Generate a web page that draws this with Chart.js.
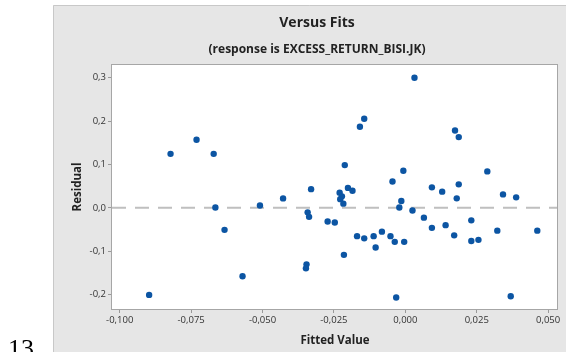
<!DOCTYPE html>
<html>
<head>
<meta charset="utf-8">
<script src="https://cdn.jsdelivr.net/npm/chart.js@4.4.0/dist/chart.umd.min.js"></script>
<style>
  body { margin: 0; background: #fff; }
  #wrap { width: 566px; height: 352px; }
</style>
</head>
<body>
<div id="wrap"><canvas id="myChart" width="566" height="352"></canvas></div>
<script>
// fitted values and residuals
var fitted = [
  -0.0822, -0.0731, -0.0671, -0.0330, -0.0428, -0.0665, -0.0509, -0.0633, -0.0342, -0.0337,
  -0.0272, -0.0346, -0.0348, -0.0570, -0.0897, 0.0032, -0.0144, -0.0159, 0.0174, 0.0187,
  -0.0212, -0.0007, 0.0287, -0.0045, 0.0093, 0.0187, 0.0129, 0.0342, 0.0388, 0.0180,
  -0.0230, -0.0201, -0.0185, -0.0222, -0.0228, -0.0217, -0.0014, -0.0021, 0.0025, 0.0065,
  -0.0247, 0.0231, 0.0141, 0.0093, 0.0322, 0.0462, 0.0171, -0.0169, -0.0144, -0.0111,
  -0.0082, -0.0052, -0.0037, -0.0004, 0.0231, 0.0256, -0.0104, -0.0215, -0.0032, 0.0369
];
var residual = [
  0.1244, 0.1567, 0.1244, 0.0431, 0.0217, 0.0009, 0.0055, -0.0507, -0.0104, -0.0207,
  -0.0313, -0.1302, -0.1394, -0.1574, -0.2005, 0.2995, 0.2051, 0.1866, 0.1783, 0.1629,
  0.0984, 0.0855, 0.0839, 0.0608, 0.0472, 0.0541, 0.0373, 0.0309, 0.0242, 0.0219,
  0.0350, 0.0459, 0.0392, 0.0265, 0.0200, 0.0097, 0.0159, 0.0009, -0.0060, -0.0226,
  -0.0336, -0.0288, -0.0399, -0.0461, -0.0525, -0.0525, -0.0634, -0.0652, -0.0703, -0.0652,
  -0.0548, -0.0652, -0.0783, -0.0783, -0.0763, -0.0737, -0.0912, -0.1083, -0.2065, -0.2035
];

var xTicks = [-0.100, -0.075, -0.050, -0.025, 0.000, 0.025, 0.050];
var xTickLabels = ['-0,100', '-0,075', '-0,050', '-0,025', '0,000', '0,025', '0,050'];
var yTicks = [-0.2, -0.1, 0.0, 0.1, 0.2, 0.3];
var yTickLabels = ['-0,2', '-0,1', '0,0', '0,1', '0,2', '0,3'];
var xRange = [-0.1027, 0.0531];
var yRange = [-0.233, 0.329];

var points = [];
for (var i = 0; i < fitted.length; i++) {
  points.push({ x: fitted[i], y: residual[i] });
}

var font = "'Open Sans', 'Noto Sans', sans-serif";

// grey panel, white plot area, frame and the texts
var frame = {
  id: 'frame',
  beforeDraw: function(chart) {
    var c = chart.ctx, a = chart.chartArea;
    c.save();
    c.fillStyle = '#fff';
    c.fillRect(0, 0, 566, 352);
    c.fillStyle = '#e6e6e6';
    c.fillRect(53, 5, 513, 347);
    c.strokeStyle = '#c8c8c8';
    c.lineWidth = 1;
    c.beginPath();
    c.moveTo(53.5, 352);
    c.lineTo(53.5, 5.5);
    c.lineTo(566, 5.5);
    c.stroke();
    c.fillStyle = '#fff';
    c.fillRect(a.left, a.top, a.right - a.left, a.bottom - a.top);
    c.restore();
  },
  afterDraw: function(chart) {
    var c = chart.ctx, a = chart.chartArea;
    c.save();
    c.strokeStyle = '#a6a6a6';
    c.lineWidth = 1;
    c.strokeRect(a.left - 0.5, a.top - 0.5, a.right - a.left + 1, a.bottom - a.top + 1);

    c.fillStyle = '#222';
    c.textAlign = 'center';
    c.textBaseline = 'alphabetic';
    c.font = "bold 14px " + font;
    c.fillText('Versus Fits', 317, 26.5);
    c.font = "bold 12px " + font;
    c.fillText('(response is EXCESS_RETURN_BISI.JK)', 317, 52.5);
    c.font = "bold 11.5px " + font;
    c.fillText('Fitted Value', 335, 344);

    c.translate(80.5, 187);
    c.rotate(-Math.PI / 2);
    c.fillText('Residual', 0, 0);
    c.restore();

    // page number outside the panel
    c.save();
    c.fillStyle = '#000';
    c.font = "26px 'Liberation Serif', serif";
    c.textAlign = 'left';
    c.fillText('13', 8, 357);
    c.restore();
  }
};

var ctx = document.getElementById('myChart').getContext('2d');
var myChart = new Chart(ctx, {
  type: 'scatter',
  data: {
    datasets: [
      {
        type: 'line',
        data: [{ x: xRange[0], y: 0 }, { x: xRange[1], y: 0 }],
        borderColor: '#bfbfbf',
        borderWidth: 2,
        borderDash: [14, 9],
        pointRadius: 0,
        order: 2
      },
      {
        data: points,
        pointRadius: 3.2,
        backgroundColor: '#0c55a3',
        borderColor: '#0c55a3',
        borderWidth: 0,
        order: 1
      }
    ]
  },
  options: {
    responsive: false,
    animation: false,
    layout: { padding: { left: 0, top: 65, right: 9, bottom: 0 } },
    plugins: {
      legend: { display: false },
      tooltip: { enabled: false }
    },
    scales: {
      x: {
        type: 'linear',
        min: xRange[0],
        max: xRange[1],
        afterFit: function(s) { s.height = 43; },
        afterBuildTicks: function(axis) {
          axis.ticks = xTicks.map(function(v) { return { value: v }; });
        },
        ticks: {
          autoSkip: false,
          maxRotation: 0,
          padding: 2,
          color: '#333',
          font: { family: font, size: 9.5 },
          callback: function(value, index) { return xTickLabels[index]; }
        },
        grid: { drawOnChartArea: false, tickLength: 4, color: '#999' },
        border: { display: false }
      },
      y: {
        type: 'linear',
        min: yRange[0],
        max: yRange[1],
        afterFit: function(s) { s.width = 112; },
        afterBuildTicks: function(axis) {
          axis.ticks = yTicks.map(function(v) { return { value: v }; });
        },
        ticks: {
          autoSkip: false,
          padding: 2,
          color: '#333',
          font: { family: font, size: 9.5 },
          callback: function(value, index) { return yTickLabels[index]; }
        },
        grid: { drawOnChartArea: false, tickLength: 4, color: '#999' },
        border: { display: false }
      }
    }
  },
  plugins: [frame]
});
</script>
</body>
</html>
